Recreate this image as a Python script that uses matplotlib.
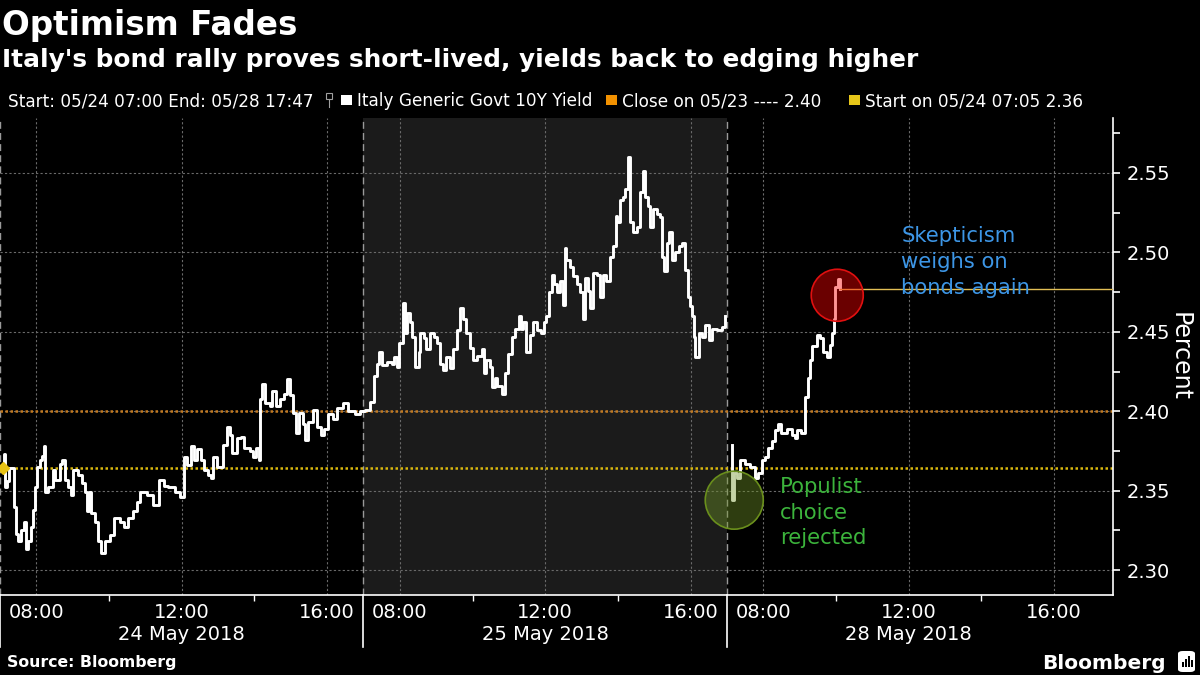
import matplotlib
matplotlib.use('Agg')
import matplotlib.pyplot as plt
from matplotlib.patches import Rectangle, FancyBboxPatch
from matplotlib.transforms import blended_transform_factory

title = 'Optimism Fades'
subtitle = "Italy's bond rally proves short-lived, yields back to edging higher"

days = ['24 May 2018', '25 May 2018', '28 May 2018']
hour_labels = ['08:00', '12:00', '16:00']

# intraday ticks, Italy generic govt 10Y yield (%)
times_may24 = ['07:05', '07:07', '07:08', '07:12', '07:15', '07:23', '07:26', '07:30', '07:34', '07:39',
               '07:43', '07:47', '07:51', '07:55', '07:58', '08:01', '08:06', '08:10', '08:12', '08:15',
               '08:20', '08:27', '08:31', '08:39', '08:43', '08:47', '08:53', '08:57', '09:01', '09:08',
               '09:15', '09:20', '09:24', '09:27', '09:31', '09:37', '09:42', '09:46', '09:53', '10:02',
               '10:08', '10:18', '10:25', '10:32', '10:39', '10:46', '10:51', '11:02', '11:13', '11:23',
               '11:30', '11:38', '11:49', '11:57', '12:04', '12:09', '12:16', '12:20', '12:26', '12:31',
               '12:37', '12:44', '12:48', '12:52', '12:58', '13:08', '13:14', '13:20', '13:23', '13:31',
               '13:37', '13:43', '13:52', '13:57', '14:03', '14:07', '14:09', '14:13', '14:18', '14:25',
               '14:29', '14:36', '14:42', '14:48', '14:53', '14:59', '15:03', '15:09', '15:14', '15:20',
               '15:24', '15:29', '15:36', '15:43', '15:50', '15:55', '16:02', '16:09', '16:16', '16:27',
               '16:35', '16:46', '16:54', '17:00']
yield_may24 = [2.364, 2.373, 2.352, 2.356, 2.364, 2.340, 2.323, 2.318, 2.325, 2.330,
               2.313, 2.318, 2.327, 2.338, 2.352, 2.365, 2.369, 2.372, 2.378, 2.349,
               2.352, 2.363, 2.357, 2.367, 2.369, 2.357, 2.352, 2.347, 2.363, 2.360,
               2.355, 2.349, 2.337, 2.349, 2.336, 2.330, 2.318, 2.311, 2.318, 2.322,
               2.333, 2.330, 2.327, 2.333, 2.337, 2.343, 2.349, 2.347, 2.341, 2.357,
               2.353, 2.352, 2.349, 2.346, 2.371, 2.366, 2.378, 2.369, 2.376, 2.369,
               2.363, 2.360, 2.358, 2.371, 2.365, 2.379, 2.390, 2.385, 2.374, 2.383,
               2.384, 2.377, 2.375, 2.371, 2.377, 2.369, 2.408, 2.417, 2.405, 2.403,
               2.413, 2.403, 2.408, 2.411, 2.420, 2.410, 2.399, 2.386, 2.399, 2.392,
               2.382, 2.393, 2.401, 2.390, 2.385, 2.389, 2.398, 2.395, 2.402, 2.405,
               2.400, 2.398, 2.400, 2.400]

times_may25 = ['07:00', '07:02', '07:10', '07:17', '07:23', '07:26', '07:31', '07:38', '07:47', '07:50',
               '07:55', '07:59', '08:05', '08:09', '08:12', '08:17', '08:20', '08:25', '08:31', '08:34',
               '08:40', '08:44', '08:50', '08:56', '09:02', '09:06', '09:12', '09:17', '09:23', '09:28',
               '09:34', '09:39', '09:45', '09:50', '09:56', '10:01', '10:08', '10:15', '10:19', '10:23',
               '10:29', '10:32', '10:37', '10:41', '10:48', '10:54', '10:59', '11:05', '11:10', '11:16',
               '11:20', '11:24', '11:29', '11:35', '11:40', '11:47', '11:53', '11:58', '12:02', '12:06',
               '12:11', '12:15', '12:19', '12:24', '12:29', '12:32', '12:35', '12:41', '12:46', '12:52',
               '12:57', '13:03', '13:06', '13:11', '13:14', '13:19', '13:26', '13:30', '13:36', '13:41',
               '13:47', '13:52', '13:56', '13:59', '14:03', '14:09', '14:12', '14:16', '14:20', '14:25',
               '14:31', '14:36', '14:42', '14:45', '14:49', '14:53', '14:58', '15:04', '15:10', '15:13',
               '15:16', '15:21', '15:24', '15:29', '15:34', '15:40', '15:45', '15:51', '15:56', '15:59',
               '16:02', '16:05', '16:08', '16:13', '16:18', '16:24', '16:31', '16:35', '16:43', '16:51',
               '16:57']
yield_may25 = [2.400, 2.401, 2.406, 2.422, 2.430, 2.437, 2.429, 2.431, 2.430, 2.434,
               2.428, 2.443, 2.468, 2.449, 2.462, 2.456, 2.447, 2.428, 2.437, 2.449,
               2.446, 2.439, 2.449, 2.447, 2.443, 2.430, 2.426, 2.434, 2.427, 2.439,
               2.451, 2.465, 2.458, 2.449, 2.440, 2.432, 2.435, 2.439, 2.424, 2.432,
               2.428, 2.415, 2.421, 2.416, 2.411, 2.424, 2.436, 2.447, 2.452, 2.460,
               2.452, 2.456, 2.437, 2.448, 2.456, 2.451, 2.449, 2.456, 2.460, 2.475,
               2.486, 2.480, 2.475, 2.482, 2.467, 2.503, 2.495, 2.491, 2.485, 2.480,
               2.475, 2.458, 2.484, 2.476, 2.465, 2.487, 2.486, 2.472, 2.486, 2.482,
               2.497, 2.504, 2.523, 2.519, 2.533, 2.535, 2.540, 2.560, 2.519, 2.513,
               2.516, 2.538, 2.551, 2.535, 2.529, 2.516, 2.527, 2.524, 2.522, 2.497,
               2.488, 2.506, 2.513, 2.495, 2.500, 2.504, 2.506, 2.489, 2.472, 2.466,
               2.460, 2.447, 2.434, 2.449, 2.447, 2.454, 2.445, 2.452, 2.451, 2.453,
               2.460]

times_may28 = ['07:08', '07:09', '07:12', '07:17', '07:21', '07:30', '07:38', '07:46', '07:52', '07:57',
               '08:03', '08:08', '08:14', '08:19', '08:25', '08:30', '08:39', '08:47', '08:52', '08:56',
               '09:03', '09:09', '09:14', '09:17', '09:21', '09:28', '09:34', '09:39', '09:45', '09:50',
               '09:53', '09:56', '09:59', '10:03', '10:07']
yield_may28 = [2.379, 2.344, 2.361, 2.358, 2.369, 2.367, 2.365, 2.358, 2.361, 2.369,
               2.371, 2.377, 2.381, 2.388, 2.392, 2.386, 2.389, 2.385, 2.383, 2.388,
               2.386, 2.409, 2.421, 2.432, 2.441, 2.448, 2.446, 2.437, 2.434, 2.442,
               2.449, 2.458, 2.478, 2.483, 2.477]

close_0523 = 2.40
start_0524 = 2.364
last_value = 2.477

populist_at = ('07:12', 2.344)
skeptic_at = ('10:02', 2.473)

session_open = 7.0
session_len = 10.0
x_end = 30.62
y_min, y_max = 2.2843, 2.5846

def xpos(day, t):
    hh, mm = t.split(':')
    return day * session_len + int(hh) + int(mm) / 60 - session_open

def fig_xy(px, py):
    return px / 1200, 1 - py / 675

fig = plt.figure(figsize=(12, 6.75), dpi=100, facecolor='black')
ax = fig.add_axes([0, 1 - 595 / 675, 1113 / 1200, (595 - 118) / 675])
ax.set_facecolor('black')
ax.set_xlim(0, x_end)
ax.set_ylim(y_min, y_max)

# grey band for the middle session
ax.axvspan(10, 20, color='#1b1b1b', zorder=0, lw=0)

yt = [2.30, 2.35, 2.40, 2.45, 2.50, 2.55]
for v in yt:
    ax.axhline(v, color='#6a6a6a', lw=0.8, ls=(0, (2, 2)), zorder=1)
xt = [d * session_len + h for d in range(3) for h in (1, 5, 9)]
for x in xt:
    ax.axvline(x, color='#6a6a6a', lw=0.8, ls=(0, (2, 2)), zorder=1)
for d in range(3):
    ax.axvline(d * session_len, color='#9a9a9a', lw=1, ls=(0, (5, 3)), zorder=1)

ax.axhline(close_0523, color='#c27a22', lw=1.8, ls=(0, (1, 1)), zorder=2)
ax.axhline(start_0524, color='#d9b80f', lw=1.8, ls=(0, (1, 1)), zorder=2)

for d, (tt, yy) in enumerate([(times_may24, yield_may24), (times_may25, yield_may25), (times_may28, yield_may28)]):
    ax.plot([xpos(d, t) for t in tt], yy, drawstyle='steps-post', color='white', lw=2.1, zorder=3)

ax.plot(xpos(0, '07:05'), start_0524, marker='D', ms=6, color='#e8c214', zorder=4, clip_on=False)

# pointer line to the right axis
ax.plot([xpos(2, times_may28[-1]), x_end], [last_value, last_value], color='#e2bf55', lw=1, zorder=3)

# highlight circles
gx, gy = xpos(2, populist_at[0]), populist_at[1]
ax.scatter([gx], [gy], s=1744, color='#709527', alpha=0.41, lw=0, zorder=5)
ax.scatter([gx], [gy], s=1744, facecolors='none', edgecolors='#6a8f1c', lw=1.2, zorder=5)
rx, ry = xpos(2, skeptic_at[0]), skeptic_at[1]
ax.scatter([rx], [ry], s=1402, color='#ff0000', alpha=0.42, lw=0, zorder=5)
ax.scatter([rx], [ry], s=1402, facecolors='none', edgecolors='#e01010', lw=1.2, zorder=5)

ax.text(xpos(2, '11:48'), 2.494, 'Skepticism\nweighs on\nbonds again', color='#3d96e6',
        fontsize=15.2, va='center', ha='left', linespacing=1.35, zorder=6)
ax.text(xpos(2, '08:27'), 2.336, 'Populist\nchoice\nrejected', color='#3cb43c',
        fontsize=15.2, va='center', ha='left', linespacing=1.35, zorder=6)

# axes styling
for s in ['top', 'left']:
    ax.spines[s].set_visible(False)
ax.spines['right'].set_color('white')
ax.spines['bottom'].set_color('white')
ax.spines['right'].set_linewidth(1.2)
ax.spines['bottom'].set_linewidth(1.2)

ax.yaxis.tick_right()
ax.set_yticks(yt)
ax.set_yticklabels(['%.2f' % v for v in yt])
ax.set_yticks([2.325, 2.375, 2.425, 2.475, 2.525, 2.575], minor=True)
ax.tick_params(axis='y', which='both', direction='out', length=5, width=1.2, colors='white',
               labelsize=14, pad=5)

ax.set_xticks(xt)
ax.set_xticklabels(hour_labels * 3)
ax.set_xticks([d * session_len + h for d in range(3) for h in (1, 3, 5, 7, 9)], minor=True)
ax.tick_params(axis='x', which='major', length=0, colors='white', labelsize=14, pad=6)
ax.tick_params(axis='x', which='minor', length=4, width=1, colors='white')

ax.text(1.06, 0.5, 'Percent', transform=ax.transAxes, rotation=270, color='white', fontsize=17,
        ha='center', va='center')

trans = blended_transform_factory(ax.transData, ax.transAxes)
for d, lab in enumerate(days):
    ax.text(d * session_len + 5, -0.083, lab, transform=trans, ha='center', va='center',
            color='white', fontsize=14)
    ax.plot([d * session_len, d * session_len], [0, -0.11], transform=trans, color='white',
            lw=1.2, clip_on=False)

# header
fig.text(*fig_xy(2, 35), title, color='white', fontsize=23.5, fontweight='bold', va='baseline')
fig.text(*fig_xy(2, 67), subtitle, color='white', fontsize=17.8, fontweight='bold', va='baseline')

fig.text(*fig_xy(8, 106), 'Start: 05/24 07:00 End: 05/28 17:47', color='white', fontsize=12.2,
         va='baseline')
fig.add_artist(Rectangle(fig_xy(326, 99), 6 / 1200, 6 / 675, transform=fig.transFigure,
                         facecolor='none', edgecolor='#a0a0a0', lw=0.8))
fig.add_artist(plt.Line2D([329 / 1200, 329 / 1200], [1 - 99 / 675, 1 - 107 / 675],
                          transform=fig.transFigure, color='#a0a0a0', lw=0.8))
legend_items = [(341, 'white', 'Italy Generic Govt 10Y Yield'),
                (606, '#f29100', 'Close on 05/23 ---- 2.40'),
                (849, '#e6c619', 'Start on 05/24 07:05 2.36')]
for px, col, lab in legend_items:
    fig.add_artist(Rectangle(fig_xy(px, 105), 11 / 1200, 10 / 675, transform=fig.transFigure,
                             facecolor=col, edgecolor='none'))
    fig.text(*fig_xy(px + 16, 106), lab, color='white', fontsize=12.2, va='baseline')

# footer
fig.text(*fig_xy(7, 667), 'Source: Bloomberg', color='white', fontsize=11.3, fontweight='bold',
         va='baseline')
fig.text(*fig_xy(1166, 669), 'Bloomberg', color='white', fontsize=14.5, fontweight='bold',
         va='baseline', ha='right')
fig.add_artist(FancyBboxPatch(fig_xy(1178, 672), 17 / 1200, 21 / 675, transform=fig.transFigure,
                              boxstyle='round,pad=0,rounding_size=0.004', facecolor='white',
                              edgecolor='none'))
for bx, bh in [(1182, 5), (1185, 8), (1188, 11), (1191, 7)]:
    fig.add_artist(Rectangle(fig_xy(bx, 667), 2 / 1200, bh / 675, transform=fig.transFigure,
                             facecolor='black', edgecolor='none'))

fig.savefig('out.png', dpi=100, facecolor='black')
